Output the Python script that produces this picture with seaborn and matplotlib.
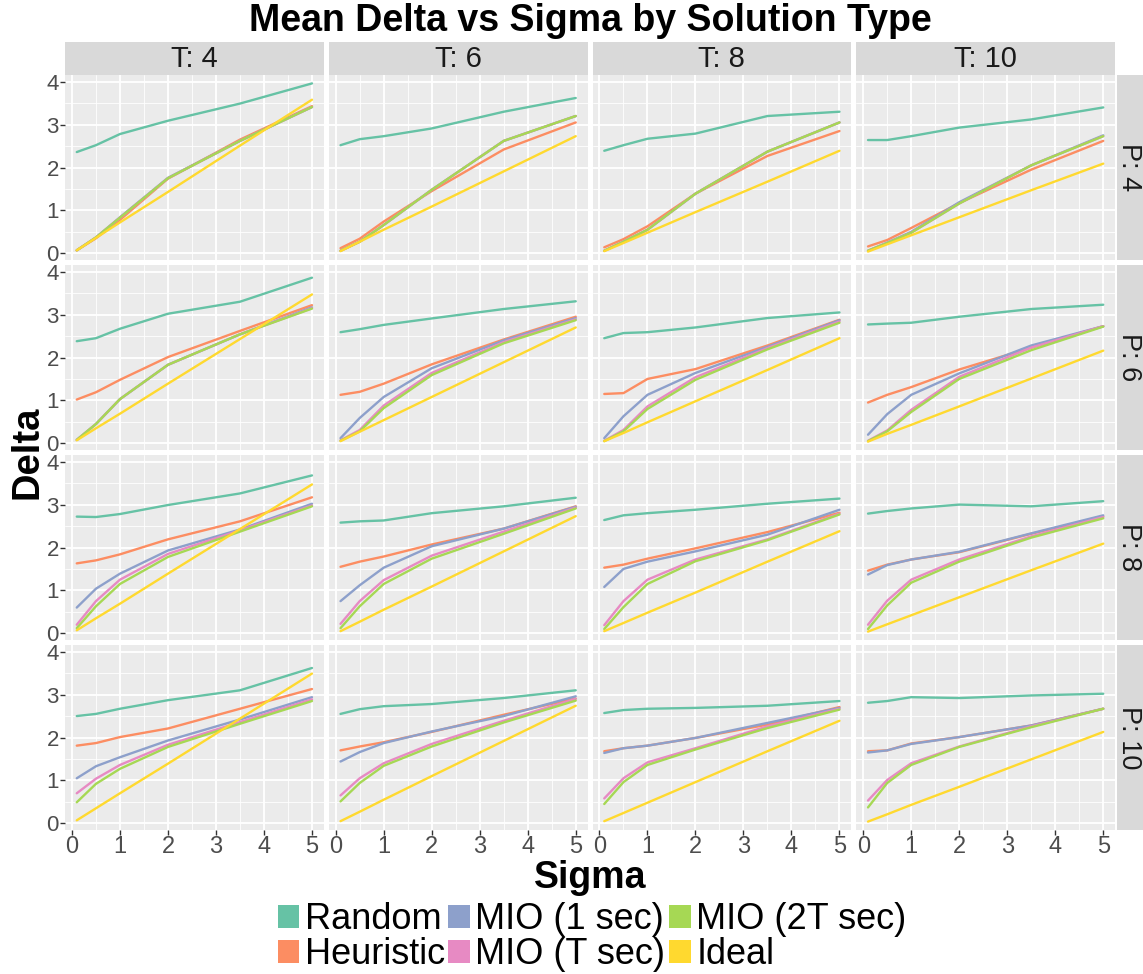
import numpy as np
import pandas as pd
import matplotlib
matplotlib.use("Agg")
import matplotlib.pyplot as plt
import matplotlib.patches as mpatches
from matplotlib.ticker import MultipleLocator
import seaborn as sns

sigma = [0.1, 0.5, 1, 2, 3.5, 5]
t_values = [4, 6, 8, 10]
p_values = [4, 6, 8, 10]
types = ["Random", "Heuristic", "MIO (1 sec)", "MIO (T sec)", "MIO (2T sec)", "Ideal"]
colors = ["#66C2A5", "#FC8D62", "#8DA0CB", "#E78AC3", "#A6D854", "#FFD92F"]

# each series: one list per panel, ordered P=4 (T=4,6,8,10), P=6 (...), P=8, P=10
random_delta = [
    [2.36, 2.52, 2.78, 3.09, 3.49, 3.96], [2.52, 2.66, 2.73, 2.91, 3.30, 3.62],
    [2.39, 2.52, 2.67, 2.79, 3.20, 3.30], [2.64, 2.64, 2.73, 2.93, 3.12, 3.40],
    [2.38, 2.45, 2.67, 3.02, 3.30, 3.86], [2.59, 2.66, 2.76, 2.91, 3.13, 3.31],
    [2.45, 2.57, 2.59, 2.70, 2.92, 3.05], [2.77, 2.79, 2.81, 2.95, 3.13, 3.23],
    [2.72, 2.71, 2.78, 2.99, 3.26, 3.68], [2.58, 2.61, 2.63, 2.80, 2.96, 3.16],
    [2.64, 2.75, 2.80, 2.88, 3.02, 3.14], [2.79, 2.85, 2.91, 3.00, 2.96, 3.08],
    [2.50, 2.55, 2.67, 2.87, 3.10, 3.62], [2.55, 2.66, 2.73, 2.78, 2.92, 3.10],
    [2.57, 2.64, 2.67, 2.69, 2.74, 2.85], [2.81, 2.85, 2.94, 2.92, 2.98, 3.02],
]
heuristic_delta = [
    [0.07, 0.35, 0.78, 1.74, 2.65, 3.43], [0.12, 0.34, 0.74, 1.45, 2.42, 3.05],
    [0.14, 0.33, 0.63, 1.39, 2.27, 2.85], [0.16, 0.31, 0.59, 1.17, 1.95, 2.62],
    [1.02, 1.19, 1.48, 2.01, 2.62, 3.22], [1.13, 1.20, 1.39, 1.84, 2.42, 2.95],
    [1.15, 1.17, 1.50, 1.73, 2.28, 2.88], [0.95, 1.13, 1.31, 1.72, 2.23, 2.73],
    [1.63, 1.70, 1.84, 2.19, 2.61, 3.17], [1.55, 1.67, 1.79, 2.07, 2.44, 2.96],
    [1.53, 1.60, 1.74, 1.98, 2.36, 2.81], [1.46, 1.60, 1.72, 1.89, 2.32, 2.72],
    [1.81, 1.87, 2.01, 2.21, 2.67, 3.13], [1.70, 1.79, 1.89, 2.13, 2.53, 2.91],
    [1.68, 1.75, 1.81, 1.99, 2.30, 2.71], [1.68, 1.70, 1.86, 2.01, 2.28, 2.67],
]
mio_1s_delta = [
    [0.07, 0.37, 0.84, 1.76, 2.62, 3.41], [0.06, 0.27, 0.66, 1.48, 2.62, 3.20],
    [0.06, 0.27, 0.55, 1.39, 2.37, 3.05], [0.06, 0.25, 0.50, 1.19, 2.05, 2.75],
    [0.08, 0.45, 1.03, 1.83, 2.54, 3.17], [0.12, 0.59, 1.08, 1.75, 2.40, 2.92],
    [0.12, 0.63, 1.13, 1.64, 2.25, 2.87], [0.20, 0.68, 1.13, 1.63, 2.28, 2.73],
    [0.60, 1.04, 1.39, 1.93, 2.42, 3.02], [0.75, 1.12, 1.53, 2.03, 2.44, 2.95],
    [1.08, 1.50, 1.67, 1.91, 2.30, 2.88], [1.37, 1.59, 1.72, 1.90, 2.33, 2.75],
    [1.05, 1.33, 1.54, 1.93, 2.42, 2.94], [1.44, 1.66, 1.87, 2.14, 2.50, 2.96],
    [1.64, 1.75, 1.81, 1.99, 2.34, 2.69], [1.65, 1.70, 1.85, 2.01, 2.28, 2.67],
]
mio_t_delta = [
    [0.07, 0.37, 0.83, 1.75, 2.62, 3.41], [0.06, 0.27, 0.66, 1.48, 2.62, 3.20],
    [0.06, 0.27, 0.55, 1.39, 2.37, 3.05], [0.06, 0.24, 0.48, 1.16, 2.05, 2.73],
    [0.08, 0.45, 1.03, 1.83, 2.54, 3.15], [0.07, 0.31, 0.88, 1.64, 2.36, 2.89],
    [0.06, 0.31, 0.86, 1.54, 2.22, 2.84], [0.06, 0.30, 0.78, 1.55, 2.23, 2.73],
    [0.20, 0.75, 1.25, 1.85, 2.40, 2.98], [0.22, 0.75, 1.24, 1.81, 2.37, 2.93],
    [0.19, 0.75, 1.25, 1.72, 2.19, 2.79], [0.20, 0.76, 1.25, 1.72, 2.26, 2.71],
    [0.70, 1.04, 1.36, 1.83, 2.36, 2.89], [0.65, 1.05, 1.40, 1.85, 2.39, 2.90],
    [0.58, 1.05, 1.42, 1.75, 2.26, 2.67], [0.53, 1.01, 1.40, 1.79, 2.26, 2.67],
]
mio_2t_delta = [
    [0.07, 0.37, 0.83, 1.75, 2.62, 3.41], [0.06, 0.27, 0.66, 1.48, 2.62, 3.20],
    [0.06, 0.27, 0.55, 1.39, 2.37, 3.05], [0.06, 0.24, 0.48, 1.16, 2.05, 2.73],
    [0.08, 0.45, 1.03, 1.83, 2.54, 3.14], [0.06, 0.28, 0.82, 1.59, 2.33, 2.87],
    [0.05, 0.28, 0.80, 1.48, 2.19, 2.81], [0.05, 0.28, 0.73, 1.50, 2.17, 2.72],
    [0.12, 0.63, 1.15, 1.78, 2.37, 2.96], [0.12, 0.63, 1.15, 1.74, 2.32, 2.91],
    [0.10, 0.61, 1.15, 1.68, 2.17, 2.77], [0.10, 0.65, 1.18, 1.67, 2.23, 2.68],
    [0.49, 0.92, 1.27, 1.78, 2.32, 2.85], [0.51, 0.94, 1.34, 1.79, 2.35, 2.86],
    [0.45, 0.96, 1.36, 1.72, 2.22, 2.65], [0.37, 0.94, 1.36, 1.78, 2.24, 2.67],
]
ideal_delta = [
    [0.07, 0.36, 0.72, 1.43, 2.51, 3.58], [0.05, 0.27, 0.55, 1.09, 1.91, 2.73],
    [0.05, 0.24, 0.48, 0.96, 1.67, 2.39], [0.04, 0.21, 0.42, 0.84, 1.47, 2.09],
    [0.07, 0.35, 0.69, 1.39, 2.43, 3.47], [0.05, 0.27, 0.54, 1.08, 1.89, 2.70],
    [0.05, 0.24, 0.49, 0.98, 1.71, 2.45], [0.04, 0.22, 0.43, 0.86, 1.51, 2.16],
    [0.07, 0.35, 0.69, 1.39, 2.43, 3.47], [0.05, 0.27, 0.55, 1.09, 1.91, 2.73],
    [0.05, 0.24, 0.48, 0.95, 1.67, 2.38], [0.04, 0.21, 0.42, 0.84, 1.47, 2.09],
    [0.07, 0.35, 0.70, 1.39, 2.44, 3.49], [0.05, 0.27, 0.55, 1.10, 1.92, 2.74],
    [0.05, 0.24, 0.48, 0.96, 1.68, 2.39], [0.04, 0.21, 0.43, 0.85, 1.49, 2.13],
]

series = [random_delta, heuristic_delta, mio_1s_delta, mio_t_delta, mio_2t_delta, ideal_delta]

rows = []
for name, vals in zip(types, series):
    for k, panel in enumerate(vals):
        p = p_values[k // 4]
        t = t_values[k % 4]
        for s, d in zip(sigma, panel):
            rows.append({"Type": name, "P": p, "T": t, "Sigma": s, "Delta": d})
df = pd.DataFrame(rows)

W, H = 1143, 974
sns.set_theme(style="darkgrid", rc={
    "axes.facecolor": "#EBEBEB",
    "grid.color": "white",
})
plt.rcParams["font.family"] = ["Liberation Sans", "DejaVu Sans"]
plt.rcParams["text.color"] = "black"

g = sns.relplot(data=df, x="Sigma", y="Delta", hue="Type", hue_order=types,
                palette=colors, row="P", col="T", kind="line", estimator=None,
                linewidth=1.7, legend=False, height=2, aspect=1.4,
                facet_kws=dict(sharex=True, sharey=True, despine=False))
fig = g.figure
fig.set_size_inches(W / 100, H / 100)
fig.set_dpi(100)

left, right, top, bottom = 65, 1115, 75, 830
pw = (right - left - 15) / 4
ph = (bottom - top - 15) / 4
fig.subplots_adjust(left=left / W, right=right / W, top=1 - top / H,
                    bottom=1 - bottom / H, wspace=5 / pw, hspace=5 / ph)

xr = df["Sigma"].max() - df["Sigma"].min()
yr = df["Delta"].max() - df["Delta"].min()
xlim = (df["Sigma"].min() - 0.05 * xr, df["Sigma"].max() + 0.05 * xr)
ylim = (df["Delta"].min() - 0.05 * yr, df["Delta"].max() + 0.05 * yr)

g.set_titles("")
g.set_axis_labels("", "")
for i, ax in enumerate(g.axes.flat):
    r, c = divmod(i, 4)
    ax.set_xlim(xlim)
    ax.set_ylim(ylim)
    ax.set_xticks([0, 1, 2, 3, 4, 5])
    ax.set_yticks([0, 1, 2, 3, 4])
    ax.xaxis.set_minor_locator(MultipleLocator(0.5))
    ax.yaxis.set_minor_locator(MultipleLocator(0.5))
    ax.grid(which="major", color="white", linewidth=1.3)
    ax.grid(which="minor", color="white", linewidth=0.6)
    for sp in ax.spines.values():
        sp.set_visible(False)
    ax.tick_params(which="minor", length=0)
    ax.tick_params(axis="x", which="major", length=3.5 if r == 3 else 0, width=1,
                   color="#333333", labelsize=17, labelcolor="#4D4D4D", pad=1,
                   labelbottom=(r == 3), bottom=(r == 3))
    ax.tick_params(axis="y", which="major", length=3.5 if c == 0 else 0, width=1,
                   color="#333333", labelsize=16, labelcolor="#4D4D4D", pad=1,
                   labelleft=(c == 0), left=(c == 0))
    if r == 0:
        ax.add_patch(mpatches.Rectangle((0, 1), 1, 33 / ph, transform=ax.transAxes,
                                        facecolor="#D9D9D9", edgecolor="none",
                                        clip_on=False))
        ax.text(0.5, 1 + 16.5 / ph, f"T: {t_values[c]}", transform=ax.transAxes,
                ha="center", va="center", fontsize=21, color="#1A1A1A")
    if c == 3:
        ax.add_patch(mpatches.Rectangle((1 + 2 / pw, 0), 40 / pw, 1, transform=ax.transAxes,
                                        facecolor="#D9D9D9", edgecolor="none",
                                        clip_on=False))
        ax.text(1 + 14 / pw, 0.5, f"P: {p_values[r]}", transform=ax.transAxes,
                ha="center", va="center", rotation=-90, fontsize=19.5, color="#1A1A1A")

fig.text(590 / W, 1 - 21 / H, "Mean Delta vs Sigma by Solution Type", ha="center",
         va="center", fontsize=27, fontweight="bold", color="black")
fig.text(590 / W, 1 - 878 / H, "Sigma", ha="center", va="center", fontsize=27,
         fontweight="bold", color="black")
fig.text(28 / W, 1 - 452 / H, "Delta", ha="center", va="center", fontsize=27.5,
         fontweight="bold", rotation=90, color="black")

handles = [mpatches.Patch(facecolor=col, edgecolor="none", label=lab)
           for lab, col in zip(types, colors)]
leg = fig.legend(handles=handles, ncol=3, loc="center", bbox_to_anchor=(592 / W, 1 - 937 / H),
                 fontsize=26, handlelength=0.6, handleheight=0.6, handletextpad=0.15,
                 columnspacing=0.1, labelspacing=0.0, frameon=False, borderpad=0)
for txt in leg.get_texts():
    txt.set_color("black")

fig.savefig("out.png", dpi=100)
